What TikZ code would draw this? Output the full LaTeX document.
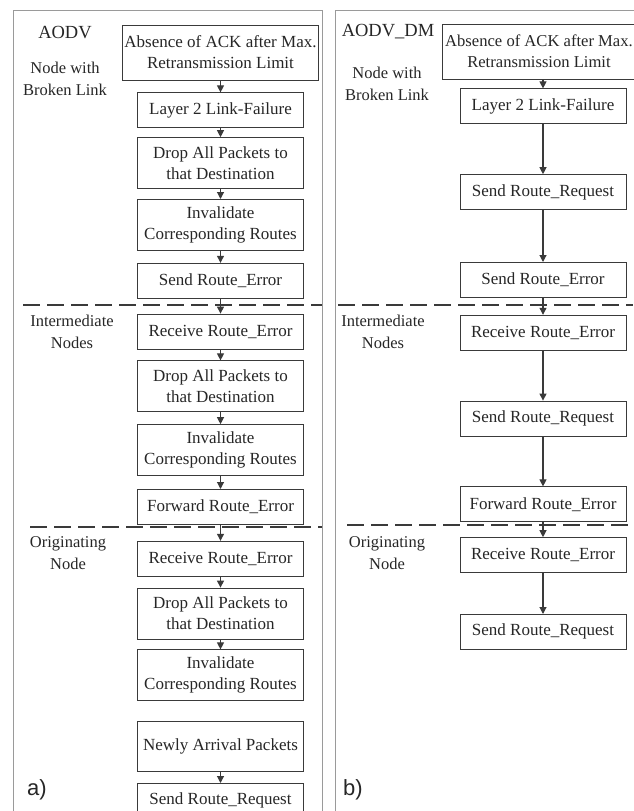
\documentclass[tikz,border=0pt]{standalone}
\usepackage{fontspec}
\setmainfont{Liberation Serif}
\newfontfamily\tagfont{Liberation Sans}
\usepackage{tikz}
\usetikzlibrary{positioning, arrows.meta}
\definecolor{flowline}{HTML}{3a3a3a}
\definecolor{flowtext}{HTML}{262626}
\definecolor{framegray}{HTML}{9a9a9a}

\begin{document}
\begin{tikzpicture}[x=1pt, y=-1pt,
 font=\fontsize{17}{21}\selectfont, text=flowtext,
 proc/.style={draw=flowline, line width=0.8pt, align=center, inner sep=2pt, minimum width=166pt, minimum height=35pt},
 tall/.style={proc, minimum height=51pt},
 wide/.style={proc, minimum width=193pt, minimum height=55pt},
 lbl/.style={align=center, font=\fontsize{16.5}{22}\selectfont},
 ttl/.style={font=\fontsize{18.5}{22}\selectfont},
 tag/.style={font=\tagfont\fontsize{22}{24}\selectfont},
 flow/.style={-{Triangle[width=7pt,length=7pt]}, line width=1.1pt, draw=flowline},
 sep/.style={dash pattern=on 17pt off 7pt, line width=1.6pt, draw=flowline}]
\useasboundingbox (0,0) rectangle (633,811);
\draw[framegray, line width=0.7pt] (13,10) rectangle (322,820);
\draw[framegray, line width=0.7pt] (335,10) rectangle (645,820);

\node[ttl](aodv) at (65,33){AODV};
\node[lbl](brk) at (65,79){Node with\\Broken Link};
\node[lbl](inter) at (72,332){Intermediate\\Nodes};
\node[lbl](orig) at (68,553){Originating\\Node};
\node[tag](tga) at (37,790){a)};

\node[wide](ack) at (220.5,52.5){Absence of ACK after Max.\\Retransmission Limit};
\node[proc, below=12pt of ack](lf){Layer 2 Link-Failure};
\node[tall, below=9pt of lf](drop){Drop All Packets to\\that Destination};
\node[tall, below=10pt of drop](inv){Invalidate\\Corresponding Routes};
\node[proc, below=12pt of inv](rerr){Send Route\_Error};
\node[proc, below=15pt of rerr](irecv){Receive Route\_Error};
\node[tall, below=11pt of irecv](idrop){Drop All Packets to\\that Destination};
\node[tall, below=12pt of idrop](iinv){Invalidate\\Corresponding Routes};
\node[proc, below=13pt of iinv](ifwd){Forward Route\_Error};
\node[proc, below=16pt of ifwd](orecv){Receive Route\_Error};
\node[tall, below=11pt of orecv](odrop){Drop All Packets to\\that Destination};
\node[tall, below=10pt of odrop](oinv){Invalidate\\Corresponding Routes};
\node[proc, minimum height=50pt, below=20pt of oinv](onew){Newly Arrival Packets};
\node[proc, below=11pt of onew](oreq){Send Route\_Request};

\node[ttl](dm) at (388,32){AODV\_DM};
\node[lbl](dbrk) at (387,84){Node with\\Broken Link};
\node[lbl](dinter) at (383,332){Intermediate\\Nodes};
\node[lbl](dorig) at (387,553){Originating\\Node};
\node[tag](tgb) at (353,790){b)};

\node[wide, font=\fontsize{16.6}{21}\selectfont](dack) at (539,51.5){Absence of ACK after Max.\\Retransmission Limit};
\node[proc, below=9pt of dack, xshift=4pt](dlf){Layer 2 Link-Failure};
\node[proc, below=50pt of dlf](dreq){Send Route\_Request};
\node[proc, below=52pt of dreq](derr){Send Route\_Error};
\node[proc, below=17pt of derr](direcv){Receive Route\_Error};
\node[proc, below=50pt of direcv](direq){Send Route\_Request};
\node[proc, below=50pt of direq](difwd){Forward Route\_Error};
\node[proc, below=15pt of difwd](dorecv){Receive Route\_Error};
\node[proc, below=41pt of dorecv](doreq){Send Route\_Request};

\draw[sep](23,305)--(322,305);
\draw[sep](30,527)--(322,527);
\draw[sep](338,305)--(633,305);
\draw[sep](347,525)--(633,525);

\draw[flow](ack)--(lf);
\draw[flow](lf)--(drop);
\draw[flow](drop)--(inv);
\draw[flow](inv)--(rerr);
\draw[flow](rerr)--(irecv);
\draw[flow](irecv)--(idrop);
\draw[flow](idrop)--(iinv);
\draw[flow](iinv)--(ifwd);
\draw[flow](ifwd)--(orecv);
\draw[flow](orecv)--(odrop);
\draw[flow](odrop)--(oinv);
\draw[flow](onew)--(oreq);

\draw[flow](dack.south -| dlf)--(dlf);
\draw[flow](dlf)--(dreq);
\draw[flow](dreq)--(derr);
\draw[flow](derr)--(direcv);
\draw[flow](direcv)--(direq);
\draw[flow](direq)--(difwd);
\draw[flow](difwd)--(dorecv);
\draw[flow](dorecv)--(doreq);

\end{tikzpicture}
\end{document}
